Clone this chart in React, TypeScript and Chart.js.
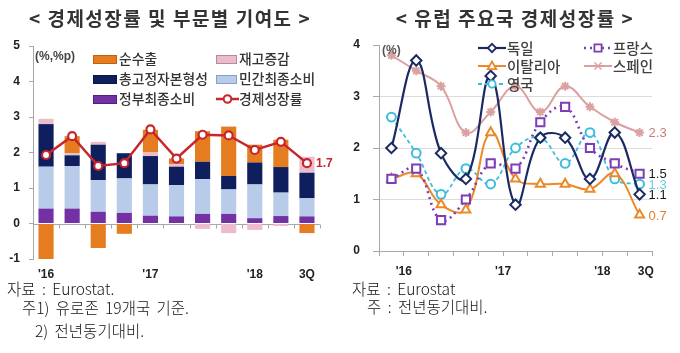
import React, { useEffect, useRef } from "react";
import { Chart, registerables } from "chart.js";

Chart.register(...registerables);

// ---------- DATA ----------
const quarters = ["2016Q1", "2016Q2", "2016Q3", "2016Q4", "2017Q1", "2017Q2", "2017Q3", "2017Q4", "2018Q1", "2018Q2", "2018Q3"];
const leftTickLabels = ["'16", "", "", "", "'17", "", "", "", "'18", "", "3Q"];
const rightYearLabels = ["'16", "'17", "'18"];
const rightLastLabel = "3Q";

// Left chart: contributions (%p) and growth (%)
const governmentConsumption = [0.42, 0.42, 0.33, 0.3, 0.22, 0.2, 0.27, 0.27, 0.15, 0.21, 0.2];
const privateConsumption = [1.18, 1.2, 0.89, 0.97, 0.88, 0.88, 0.98, 0.69, 0.95, 0.66, 0.51];
const fixedCapital = [1.2, 0.3, 1.0, 0.71, 0.8, 0.52, 0.49, 0.38, 0.62, 0.72, 0.72];
const inventories = [0.15, 0.06, 0.08, 0, 0.1, 0.07, -0.15, -0.27, -0.18, -0.07, 0.45];
const netExports = [-1.0, 0.48, -0.69, -0.29, 0.64, 0.16, 0.86, 1.39, 0.5, 0.77, -0.27];
const gdpGrowth = [1.93, 2.46, 1.62, 1.7, 2.65, 1.83, 2.5, 2.48, 2.07, 2.3, 1.7];

// Right chart: growth by country (%)
const germany = [2.0, 3.7, 1.9, 1.4, 3.4, 0.9, 2.2, 2.2, 1.4, 2.3, 1.1];
const france = [1.4, 1.6, 0.6, 1.0, 1.7, 1.6, 2.5, 2.8, 2.0, 1.7, 1.5];
const italy = [1.4, 1.5, 0.9, 0.8, 2.3, 1.4, 1.3, 1.3, 1.2, 1.5, 0.7];
const spain = [3.8, 3.5, 3.2, 2.3, 2.7, 3.2, 2.7, 3.2, 2.8, 2.5, 2.3];
const uk = [2.6, 1.9, 1.1, 1.6, 1.3, 2.0, 2.2, 1.7, 2.3, 1.4, 1.3];

// ---------- STYLES ----------
const KR = "'Noto Sans CJK KR', 'Noto Sans', sans-serif";
const NUM = "'Liberation Sans', Arial, sans-serif";

const C_NET = "#e57c1f";
const C_INV = "#ebbccb";
const C_GFCF = "#0f1f5e";
const C_PRIV = "#b8cbe8";
const C_GOV = "#7431a3";
const C_GDP = "#c7262d";

const C_DE = "#1b2a63";
const C_FR = "#7d3db8";
const C_IT = "#ea8a2b";
const C_ES = "#dba0a0";
const C_UK = "#3dbcdb";

type LeftLegendItem = { name: string; color: string; kind: "box" | "line"; border: string };
const leftLegend: LeftLegendItem[] = [
  { name: "순수출", color: C_NET, kind: "box", border: "#c0620f" },
  { name: "재고증감", color: C_INV, kind: "box", border: "#b88a9a" },
  { name: "총고정자본형성", color: C_GFCF, kind: "box", border: "#0a1540" },
  { name: "민간최종소비", color: C_PRIV, kind: "box", border: "#8aa0c8" },
  { name: "정부최종소비", color: C_GOV, kind: "box", border: "#50207a" },
  { name: "경제성장률", color: C_GDP, kind: "line", border: C_GDP },
];

type Series = { name: string; values: number[]; color: string; dash: number[]; width: number; point: string; radius: number; labelColor: string };
const rightSeries: Series[] = [
  { name: "독일", values: germany, color: C_DE, dash: [], width: 2.2, point: "rectRot", radius: 5.2, labelColor: "#1a1a1a" },
  { name: "프랑스", values: france, color: C_FR, dash: [2, 4], width: 2.6, point: "rect", radius: 5.8, labelColor: "#1a1a1a" },
  { name: "이탈리아", values: italy, color: C_IT, dash: [], width: 2, point: "triangle", radius: 5.2, labelColor: "#e07f22" },
  { name: "스페인", values: spain, color: C_ES, dash: [], width: 2, point: "star", radius: 4.5, labelColor: "#c47f7f" },
  { name: "영국", values: uk, color: C_UK, dash: [4, 3], width: 1.8, point: "circle", radius: 4.4, labelColor: "#6ccbe2" },
];
// legend grid order (row-wise, two columns)
const rightLegendOrder = ["독일", "프랑스", "이탈리아", "스페인", "영국"];
// order in which end labels are painted (later on top)
const rightLabelPaintOrder = ["영국", "스페인", "이탈리아", "프랑스", "독일"];

// ---------- PLUGINS ----------
const zeroAxisPlugin = {
  id: "zeroAxis",
  beforeDatasetsDraw(chart: any) {
    const { ctx, chartArea, scales } = chart;
    const y0 = Math.round(scales.y.getPixelForValue(0)) + 0.5;
    const n = chart.data.labels.length;
    const w = (chartArea.right - chartArea.left) / n;
    ctx.save();
    ctx.strokeStyle = "#a8a8a8";
    ctx.lineWidth = 1;
    ctx.beginPath();
    ctx.moveTo(chartArea.left, y0);
    ctx.lineTo(chartArea.right, y0);
    for (let i = 0; i <= n; i++) {
      const x = Math.round(chartArea.left + i * w) + 0.5;
      ctx.moveTo(x, y0);
      ctx.lineTo(x, y0 + 4);
    }
    ctx.stroke();
    ctx.restore();
  },
};

const leftEndLabelPlugin = {
  id: "leftEndLabel",
  afterDatasetsDraw(chart: any) {
    const idx = chart.data.datasets.findIndex((d: any) => d.type === "line");
    const meta = chart.getDatasetMeta(idx);
    const last = meta.data[meta.data.length - 1];
    const v = gdpGrowth[gdpGrowth.length - 1];
    const { ctx } = chart;
    ctx.save();
    ctx.font = `bold 12px ${NUM}`;
    ctx.fillStyle = C_GDP;
    ctx.textBaseline = "middle";
    ctx.textAlign = "left";
    ctx.fillText(v.toFixed(1), last.x + 9, last.y + 1);
    ctx.restore();
  },
};

const rightEndLabelPlugin = {
  id: "rightEndLabel",
  afterDatasetsDraw(chart: any) {
    const { ctx } = chart;
    ctx.save();
    ctx.font = `13px ${NUM}`;
    ctx.textBaseline = "middle";
    ctx.textAlign = "left";
    rightLabelPaintOrder.forEach((name) => {
      const si = rightSeries.findIndex((s) => s.name === name);
      const s = rightSeries[si];
      const meta = chart.getDatasetMeta(si);
      const last = meta.data[meta.data.length - 1];
      ctx.fillStyle = s.labelColor;
      ctx.fillText(s.values[s.values.length - 1].toFixed(1), last.x + 9, last.y + 1);
    });
    ctx.restore();
  },
};

// ---------- LEGEND MARKERS ----------
function MarkerSvg({ shape, color, cx, cy }: { shape: string; color: string; cx: number; cy: number }) {
  const sw = 1.8;
  if (shape === "rectRot")
    return <polygon points={`${cx},${cy - 4.2} ${cx + 4.2},${cy} ${cx},${cy + 4.2} ${cx - 4.2},${cy}`} fill="#fff" stroke={color} strokeWidth={sw} />;
  if (shape === "rect") return <rect x={cx - 3.6} y={cy - 3.6} width={7.2} height={7.2} fill="#fff" stroke={color} strokeWidth={sw} />;
  if (shape === "triangle")
    return <polygon points={`${cx},${cy - 4.5} ${cx + 4.3},${cy + 3.2} ${cx - 4.3},${cy + 3.2}`} fill="#fff" stroke={color} strokeWidth={sw} />;
  if (shape === "circle") return <circle cx={cx} cy={cy} r={3.6} fill="#fff" stroke={color} strokeWidth={sw} />;
  return (
    <g stroke={color} strokeWidth={1.4}>
      <line x1={cx - 3.5} y1={cy - 3.5} x2={cx + 3.5} y2={cy + 3.5} />
      <line x1={cx - 3.5} y1={cy + 3.5} x2={cx + 3.5} y2={cy - 3.5} />
      <line x1={cx - 4.5} y1={cy} x2={cx + 4.5} y2={cy} />
    </g>
  );
}

export default function App() {
  const leftRef = useRef<HTMLCanvasElement>(null);
  const rightRef = useRef<HTMLCanvasElement>(null);

  useEffect(() => {
    Chart.defaults.font.family = NUM;
    const tickFont = { size: 12, weight: "bold" as const, family: NUM };

    const barDs = (label: string, data: number[], color: string) => ({
      type: "bar" as const,
      label,
      data,
      backgroundColor: color,
      borderWidth: 0,
      order: 1,
      stack: "contrib",
      categoryPercentage: 1,
      barPercentage: 0.58,
    });

    const left = new Chart(leftRef.current!, {
      type: "bar",
      data: {
        labels: quarters,
        datasets: [
          barDs("정부최종소비", governmentConsumption, C_GOV),
          barDs("민간최종소비", privateConsumption, C_PRIV),
          barDs("총고정자본형성", fixedCapital, C_GFCF),
          barDs("재고증감", inventories, C_INV),
          barDs("순수출", netExports, C_NET),
          {
            type: "line" as const,
            label: "경제성장률",
            data: gdpGrowth,
            borderColor: C_GDP,
            borderWidth: 2.5,
            pointRadius: 4,
            pointBorderWidth: 2.2,
            pointBackgroundColor: "#fff",
            pointBorderColor: C_GDP,
            tension: 0,
            order: 0,
            stack: "growth",
          } as any,
        ],
      },
      options: {
        responsive: false,
        maintainAspectRatio: false,
        animation: false,
        layout: { padding: { left: 0, right: 20, top: 46, bottom: 0 } },
        plugins: { legend: { display: false }, tooltip: { enabled: false } },
        scales: {
          x: {
            stacked: true,
            grid: { display: false, drawTicks: false },
            border: { display: false },
            ticks: {
              autoSkip: false,
              maxRotation: 0,
              minRotation: 0,
              padding: 8,
              color: "#222",
              font: tickFont,
              callback: (_v: any, i: number) => leftTickLabels[i],
            },
            afterFit: (s: any) => {
              s.height = 31;
            },
          },
          y: {
            stacked: true,
            min: -1,
            max: 5,
            ticks: { stepSize: 1, padding: 9, color: "#222", font: tickFont },
            grid: { drawOnChartArea: false, tickLength: 4, tickColor: "#a8a8a8" },
            border: { color: "#a8a8a8" },
            afterFit: (s: any) => {
              s.width = 33;
            },
          },
        },
      } as any,
      plugins: [zeroAxisPlugin, leftEndLabelPlugin],
    });

    const boundaries: number[] = [];
    for (let i = 0; i <= quarters.length; i++) boundaries.push(i - 0.5);
    const lastLabelPos = quarters.length - 0.75;
    const rightTickText = (v: number) => {
      if (v === lastLabelPos) return rightLastLabel;
      // year labels sit on the boundary before each year's second quarter
      const yi = rightYearLabels.findIndex((_l, k) => v === k * 4 + 0.5);
      return yi >= 0 ? rightYearLabels[yi] : "";
    };

    const right = new Chart(rightRef.current!, {
      type: "line",
      data: {
        datasets: rightSeries.map((s) => ({
          label: s.name,
          data: s.values.map((v, i) => ({ x: i, y: v })),
          borderColor: s.color,
          borderWidth: s.width,
          borderDash: s.dash,
          pointStyle: s.point,
          pointRadius: s.radius,
          pointBorderWidth: 2,
          pointBackgroundColor: "#fff",
          pointBorderColor: s.color,
          tension: 0.4,
        })) as any,
      },
      options: {
        responsive: false,
        maintainAspectRatio: false,
        animation: false,
        layout: { padding: { left: 0, right: 28, top: 45, bottom: 0 } },
        plugins: { legend: { display: false }, tooltip: { enabled: false } },
        scales: {
          x: {
            type: "linear",
            min: -0.5,
            max: quarters.length - 0.5,
            afterBuildTicks: (s: any) => {
              const vals = [...boundaries, lastLabelPos].sort((a, b) => a - b);
              s.ticks = vals.map((v) => ({ value: v }));
            },
            ticks: {
              autoSkip: false,
              maxRotation: 0,
              minRotation: 0,
              padding: 8,
              color: "#222",
              font: tickFont,
              callback: (v: any) => rightTickText(Number(v)),
            },
            grid: {
              drawOnChartArea: false,
              tickLength: 5,
              tickColor: (ctx: any) => (ctx.tick && ctx.tick.value === lastLabelPos ? "rgba(0,0,0,0)" : "#a8a8a8"),
            },
            border: { color: "#a8a8a8" },
            afterFit: (s: any) => {
              s.height = 39;
            },
          },
          y: {
            min: 0,
            max: 4,
            ticks: { stepSize: 1, padding: 13, color: "#222", font: tickFont },
            grid: {
              color: (ctx: any) => (ctx.tick && ctx.tick.value > 0 && ctx.tick.value < 4 ? "#dcdcdc" : "rgba(0,0,0,0)"),
              tickLength: 6,
              tickColor: "#a8a8a8",
            },
            border: { color: "#a8a8a8" },
            afterFit: (s: any) => {
              s.width = 39;
            },
          },
        },
      } as any,
      plugins: [rightEndLabelPlugin],
    });

    return () => {
      left.destroy();
      right.destroy();
    };
  }, []);

  const abs = (left: number, top: number, extra: React.CSSProperties = {}): React.CSSProperties => ({
    position: "absolute",
    left,
    top,
    whiteSpace: "nowrap",
    lineHeight: 1,
    ...extra,
  });

  const leftCols = [93, 216];
  const leftRows = [59, 79, 99];
  const rightCols = [478, 584];
  const rightRows = [48, 66, 84];
  const noteStyle: React.CSSProperties = { fontSize: 15.5, fontWeight: 300, color: "#111", wordSpacing: 3 };

  return (
    <div style={{ position: "absolute", left: 0, top: 0, width: 680, height: 353, background: "#fff", overflow: "hidden", fontFamily: KR }}>
      <canvas ref={leftRef} width={340} height={290} style={{ position: "absolute", left: 0, top: 0, width: 340, height: 290 }} />
      <canvas ref={rightRef} width={340} height={290} style={{ position: "absolute", left: 340, top: 0, width: 340, height: 290 }} />

      {/* titles */}
      <div style={abs(0, 8, { width: 340, textAlign: "center", fontSize: 19, fontWeight: 700, color: "#333", letterSpacing: 1.5 })}>
        &lt; 경제성장률 및 부문별 기여도 &gt;
      </div>
      <div style={abs(345, 8, { width: 340, textAlign: "center", fontSize: 19, fontWeight: 700, color: "#333", letterSpacing: 1.5 })}>
        &lt; 유럽 주요국 경제성장률 &gt;
      </div>

      {/* unit labels */}
      <div style={abs(35, 50, { fontSize: 12, fontWeight: 700, color: "#444", fontFamily: NUM })}>(%,%p)</div>
      <div style={abs(382, 44, { fontSize: 12, fontWeight: 700, color: "#555", fontFamily: NUM })}>(%)</div>

      {/* left legend */}
      {leftLegend.map((it, i) => {
        const x = leftCols[i % 2];
        const y = leftRows[Math.floor(i / 2)];
        const w = i % 2 === 0 ? 24 : 21;
        return (
          <div key={it.name}>
            {it.kind === "box" ? (
              <div style={{ position: "absolute", left: x, top: y - 4.5, width: w - 2, height: 7, background: it.color, border: `1px solid ${it.border}` }} />
            ) : (
              <svg style={{ position: "absolute", left: x, top: y - 6 }} width={w + 2} height={12}>
                <line x1={0} y1={6} x2={w + 2} y2={6} stroke={it.color} strokeWidth={2.5} />
                <circle cx={(w + 2) / 2} cy={6} r={3.8} fill="#fff" stroke={it.color} strokeWidth={2} />
              </svg>
            )}
            <div style={abs(x + w + 2, y - 7.5, { fontSize: 13.8, fontWeight: 500, color: "#333" })}>{it.name}</div>
          </div>
        );
      })}

      {/* right legend */}
      {rightLegendOrder.map((name, i) => {
        const s = rightSeries.find((r) => r.name === name)!;
        const x = rightCols[i % 2];
        const y = rightRows[Math.floor(i / 2)];
        const w = 28;
        return (
          <div key={name}>
            <svg style={{ position: "absolute", left: x, top: y - 6 }} width={w} height={12}>
              <line x1={0} y1={6} x2={w} y2={6} stroke={s.color} strokeWidth={s.width} strokeDasharray={s.dash.length ? s.dash.join(" ") : undefined} />
              <MarkerSvg shape={s.point} color={s.color} cx={w / 2} cy={6} />
            </svg>
            <div style={abs(x + w + 1, y - 7.5, { fontSize: 14.5, fontWeight: 500, color: "#404040" })}>{name}</div>
          </div>
        );
      })}

      {/* notes */}
      <div style={abs(7, 281, noteStyle)}>자료 : Eurostat.</div>
      <div style={abs(22, 300, noteStyle)}>주1) 유로존 19개국 기준.</div>
      <div style={abs(35, 323, noteStyle)}>2) 전년동기대비.</div>
      <div style={abs(352, 281, noteStyle)}>자료 : Eurostat</div>
      <div style={abs(367, 299, noteStyle)}>주 : 전년동기대비.</div>
    </div>
  );
}
